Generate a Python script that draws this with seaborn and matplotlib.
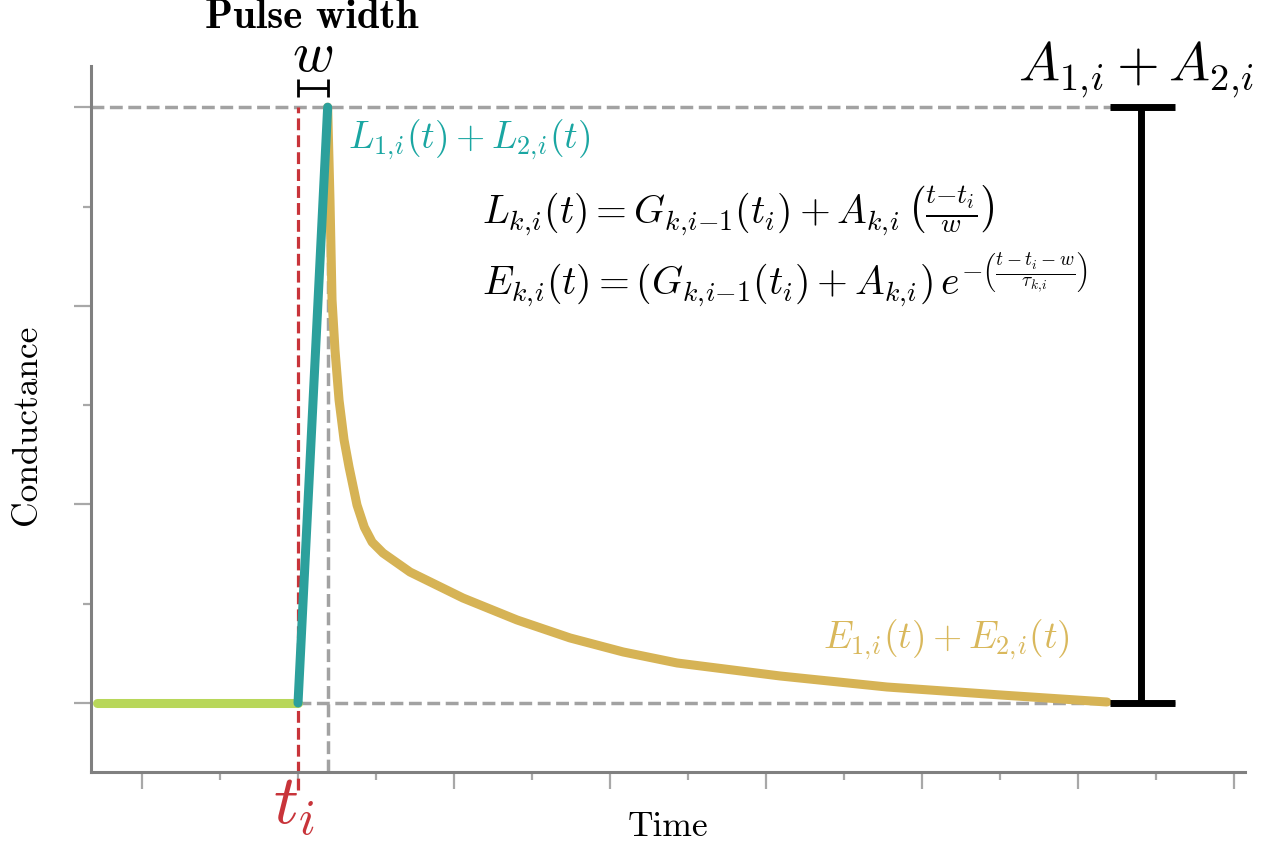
import matplotlib
matplotlib.use("Agg")
import matplotlib.pyplot as plt
import seaborn as sns
import numpy as np
import pandas as pd

# ---------------- data ----------------
t_pulse = 2.0          # t_i
w_pulse = 0.38         # pulse width w
g_base = 0.0           # G_{k,i-1}(t_i) summed
g_peak = 6.0           # peak conductance

rest_t = [-0.58, 2.0]
rest_g = [0.0, 0.0]

rise_t = [2.0, 2.38]
rise_g = [0.0, 6.0]

decay_t = [2.38, 2.41, 2.436, 2.474, 2.526, 2.59, 2.654, 2.756, 2.85, 2.95, 3.09,
           3.436, 4.115, 4.808, 5.487, 6.167, 6.859, 8.18, 9.55, 11.0, 12.37]
decay_g = [6.0, 5.06, 4.06, 3.555, 3.05, 2.65, 2.377, 1.994, 1.77, 1.62, 1.51,
           1.319, 1.057, 0.836, 0.655, 0.514, 0.403, 0.272, 0.161, 0.081, 0.01]

x_major = [0, 2, 4, 6, 8, 10, 12, 14]
x_minor = [1, 3, 5, 7, 9, 11, 13]
y_major = [0, 2, 4, 6]
y_minor = [1, 3, 5]

# ---------------- style ----------------
sns.set_theme(style="ticks")
plt.rcParams["mathtext.fontset"] = "cm"
plt.rcParams["font.family"] = ["cmr10", "DejaVu Serif"]
plt.rcParams["axes.unicode_minus"] = False
plt.rcParams["text.color"] = "black"
plt.rcParams["axes.labelcolor"] = "black"

GREEN = "#b8d75a"
TEAL = "#2ca09c"
TEAL_TXT = "#1aa6a2"
GOLD = "#d6b355"
GOLD_TXT = "#d9b85c"
RED = "#c8343a"
GRAY = "#a2a2a2"

fig = plt.figure(figsize=(12.78, 8.46), dpi=100)
ax = fig.add_axes([91/1278, 1-772/846, (1245-91)/1278, (772-66)/846])

xlim = (-0.654, 14.14)
ylim = (-0.695, 6.415)

# dashed guides
cap_l, cap_r, bar_x = 12.41, 13.24, 12.81
ax.hlines(g_peak, xlim[0], cap_r, colors=GRAY, linestyles="--", lw=2.5, zorder=1)
ax.hlines(g_base, t_pulse, cap_r, colors=GRAY, linestyles="--", lw=2.5, zorder=1)
ax.vlines(t_pulse + w_pulse, ylim[0], g_peak, colors=GRAY, linestyles="--", lw=2.5, zorder=1)
ax.vlines(t_pulse, -0.88, g_peak, colors=RED, linestyles="--", lw=2.3, zorder=1.5,
          clip_on=False)

# curves
df_rest = pd.DataFrame({"t": rest_t, "g": rest_g})
df_rise = pd.DataFrame({"t": rise_t, "g": rise_g})
df_decay = pd.DataFrame({"t": decay_t, "g": decay_g})
sns.lineplot(data=df_rest, x="t", y="g", ax=ax, color=GREEN, lw=6.5, sort=False, zorder=3)
sns.lineplot(data=df_decay, x="t", y="g", ax=ax, color=GOLD, lw=6.5, sort=False, zorder=3)
sns.lineplot(data=df_rise, x="t", y="g", ax=ax, color=TEAL, lw=6.5, sort=False, zorder=4)

# amplitude bar
ax.vlines(bar_x, g_base, g_peak, colors="black", lw=5, zorder=5)
ax.hlines([g_base, g_peak], cap_l, cap_r, colors="black", lw=5, zorder=5)

# pulse-width bracket
yb = 6.19
ax.hlines(yb, t_pulse, t_pulse + w_pulse, colors="black", lw=2, clip_on=False)
ax.vlines([t_pulse, t_pulse + w_pulse], yb - 0.09, yb + 0.09, colors="black", lw=2,
          clip_on=False)

# texts
ax.text(2.17, 6.90, "Pulse width", family="cmb10", fontsize=29.5, ha="center",
        va="center", clip_on=False, color="black")
ax.text(2.19, 6.51, r"$w$", fontsize=41, ha="center", va="center", clip_on=False,
        color="black")
ax.text(12.74, 6.38, r"$A_{1,\!i} + A_{2,\!i}$", fontsize=39.5, ha="center", va="center",
        clip_on=False, color="black")
ax.text(2.64, 5.67, r"$L_{1,\!i}(t) + L_{2,\!i}(t)$", fontsize=27, color=TEAL_TXT,
        ha="left", va="center")
ax.text(4.36, 4.96,
        r"$L_{k,\!i}(t) = G_{k,\!i{-}1}(t_i) + A_{k,\!i}\,\left(\frac{t{-}t_i}{w}\right)$",
        fontsize=28.5, ha="left", va="center", color="black")
ax.text(4.36, 4.26,
        r"$E_{k,\!i}(t) = (G_{k,\!i{-}1}(t_i) + A_{k,\!i})\,e^{-\left(\frac{t-t_i-w}{\tau_{k,\!i}}\right)}$",
        fontsize=28.5, ha="left", va="center", color="black")
ax.text(8.73, 0.634, r"$E_{1,\!i}(t) + E_{2,\!i}(t)$", fontsize=27, color=GOLD_TXT,
        ha="left", va="center")
ax.text(1.95, -1.06, r"$t_i$", fontsize=50, color=RED, ha="center", va="center",
        clip_on=False)

# axes
ax.set_xlim(*xlim)
ax.set_ylim(*ylim)
ax.set_xticks(x_major)
ax.set_xticks(x_minor, minor=True)
ax.set_yticks(y_major)
ax.set_yticks(y_minor, minor=True)
ax.set_xticklabels([])
ax.set_yticklabels([])
ax.tick_params(which="major", length=12, width=1.6, color="#a8a8a8")
ax.tick_params(which="minor", length=6, width=1.6, color="#a8a8a8")
for s in ["top", "right"]:
    ax.spines[s].set_visible(False)
for s in ["left", "bottom"]:
    ax.spines[s].set_color("#808080")
    ax.spines[s].set_linewidth(2.2)

ax.set_xlabel("Time", fontsize=25.5, va="center", color="black")
ax.set_ylabel("Conductance", fontsize=25.5, va="center", color="black")
ax.xaxis.set_label_coords(0.5, -0.078)
ax.yaxis.set_label_coords(-0.0555, 0.4915)

fig.savefig("out.png", dpi=100)
